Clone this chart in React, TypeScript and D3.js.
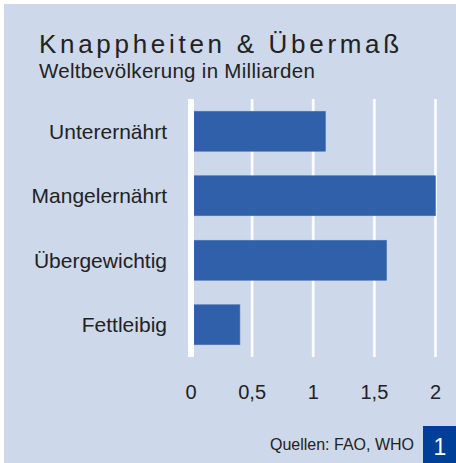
import React from "react";
import * as d3 from "d3";

// chart values
const categories = ["Unterernährt", "Mangelernährt", "Übergewichtig", "Fettleibig"];
const values = [1.1, 2.0, 1.6, 0.4];
const ticks = [0, 0.5, 1, 1.5, 2];
const tickLabels = ["0", "0,5", "1", "1,5", "2"];

const title = "Knappheiten & Übermaß";
const subtitle = "Weltbevölkerung in Milliarden";
const source = "Quellen: FAO, WHO";
const pageNo = "1";

const W = 456;
const H = 463;
const font = "'Liberation Sans', Arial, Helvetica, sans-serif";

const App = () => {
    const top = 99;
    const bottom = 357;

    const xScale = d3.scaleLinear().domain([0, 2]).range([191, 435.5]);

    const yScale = d3.scaleBand<string>()
        .domain(categories)
        .range([top, bottom])
        .paddingInner(0.38)
        .paddingOuter(0.19);

    return (
        <div style={{ position: "fixed", left: 0, top: 0 }}>
            <svg width={W} height={H} style={{ display: "block" }}>
                <rect x={0} y={0} width={W} height={H} fill="#ffffff" />
                <rect x={4} y={4} width={W - 4} height={H - 4} fill="#cdd8ea" />

                <text x={39} y={53} fontFamily={font} fontSize={26} letterSpacing={3.7} fill="#222">
                    {title}
                </text>
                <text x={39} y={78} fontFamily={font} fontSize={20.5} letterSpacing={0.3} fill="#222">
                    {subtitle}
                </text>

                {/* grid lines */}
                {ticks.slice(1).map((t) => (
                    <g key={t}>
                        <line x1={xScale(t)} x2={xScale(t)} y1={top} y2={bottom} stroke="#eef2f9" strokeWidth={3} />
                        <line x1={xScale(t)} x2={xScale(t)} y1={top} y2={bottom} stroke="#ffffff" strokeWidth={1.6} />
                    </g>
                ))}

                {/* bars */}
                {categories.map((c, i) => (
                    <rect
                        key={c}
                        x={xScale(0) + 3}
                        y={yScale(c)}
                        width={xScale(values[i]) - xScale(0) - 3}
                        height={yScale.bandwidth()}
                        fill="#3060aa"
                        stroke="#4a74b6"
                        strokeWidth={0.6}
                    />
                ))}

                {/* zero axis */}
                <line x1={xScale(0)} x2={xScale(0)} y1={top} y2={bottom} stroke="#ffffff" strokeWidth={6} />

                {/* category labels */}
                {categories.map((c) => (
                    <text
                        key={c}
                        x={167}
                        y={(yScale(c) as number) + yScale.bandwidth() / 2 + 7.5}
                        textAnchor="end"
                        fontFamily={font}
                        fontSize={21}
                        fill="#222"
                    >
                        {c}
                    </text>
                ))}

                {/* tick labels */}
                {ticks.map((t, i) => (
                    <text key={t} x={xScale(t)} y={399} textAnchor="middle" fontFamily={font} fontSize={20} fill="#222">
                        {tickLabels[i]}
                    </text>
                ))}

                <text x={414} y={450} textAnchor="end" fontFamily={font} fontSize={16} fill="#222">
                    {source}
                </text>

                <rect x={423} y={426} width={W - 423} height={H - 426} fill="#003f98" />
                <text x={440} y={455} textAnchor="middle" fontFamily={font} fontSize={23} fill="#ffffff">
                    {pageNo}
                </text>
            </svg>
        </div>
    );
};

export default App;
